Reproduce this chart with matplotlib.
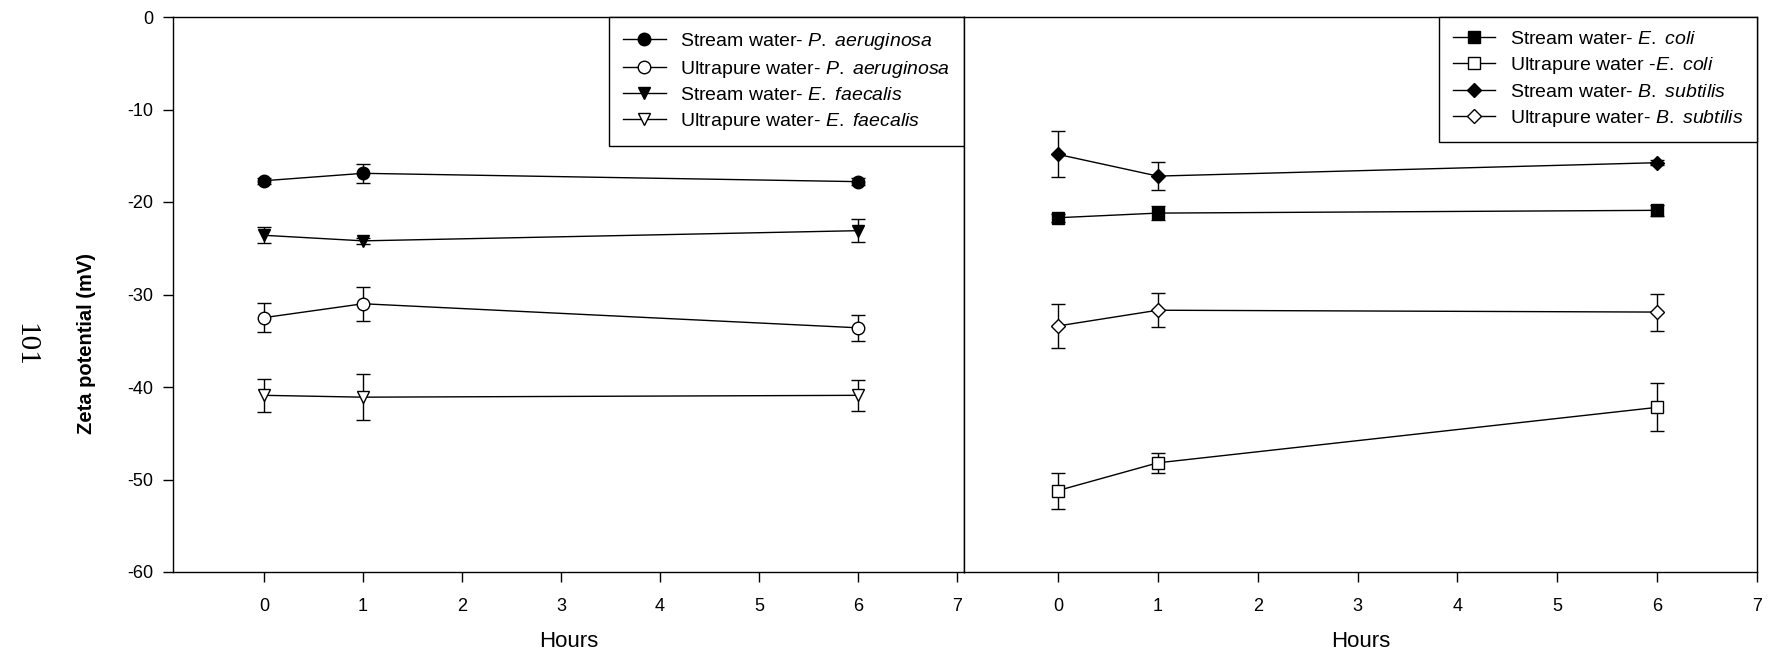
import matplotlib
matplotlib.use("Agg")
import matplotlib.pyplot as plt

plt.rcParams['font.family'] = 'Liberation Sans'
plt.rcParams['axes.unicode_minus'] = False
plt.rcParams['mathtext.fontset'] = 'custom'
plt.rcParams['mathtext.it'] = 'Liberation Sans:italic'
plt.rcParams['mathtext.rm'] = 'Liberation Sans'

hours = [0, 1, 6]

# left panel: P. aeruginosa and E. faecalis
stream_pa = [-17.7, -16.9, -17.8]
stream_pa_err = [0.3, 1.0, 0.4]
ultra_pa = [-32.5, -31.0, -33.6]
ultra_pa_err = [1.55, 1.85, 1.4]
stream_ef = [-23.6, -24.2, -23.1]
stream_ef_err = [0.85, 0.3, 1.25]
ultra_ef = [-40.9, -41.1, -40.9]
ultra_ef_err = [1.8, 2.5, 1.7]

# right panel: E. coli and B. subtilis
stream_ec = [-21.7, -21.2, -20.9]
stream_ec_err = [0.45, 0.75, 0.6]
ultra_ec = [-51.2, -48.2, -42.2]
ultra_ec_err = [1.95, 1.1, 2.6]
stream_bs = [-14.85, -17.2, -15.75]
stream_bs_err = [2.5, 1.5, 0.3]
ultra_bs = [-33.4, -31.7, -31.9]
ultra_bs_err = [2.4, 1.85, 2.0]

left_labels = [r"Stream water- $\mathit{P.}$ $\mathit{aeruginosa}$",
               r"Ultrapure water- $\mathit{P.}$ $\mathit{aeruginosa}$",
               r"Stream water- $\mathit{E.}$ $\mathit{faecalis}$",
               r"Ultrapure water- $\mathit{E.}$ $\mathit{faecalis}$"]
right_labels = [r"Stream water- $\mathit{E.}$ $\mathit{coli}$",
                r"Ultrapure water -$\mathit{E.}$ $\mathit{coli}$",
                r"Stream water- $\mathit{B.}$ $\mathit{subtilis}$",
                r"Ultrapure water- $\mathit{B.}$ $\mathit{subtilis}$"]
y_ticks = [0, -10, -20, -30, -40, -50, -60]


def draw_series(ax, y, err, marker, filled, label, ms=9):
    ax.errorbar(hours, y, yerr=err, fmt='none', ecolor='black',
                elinewidth=1.0, capsize=5, capthick=1.0, zorder=2)
    ax.plot(hours, y, color='black', lw=1.0, marker=marker, ms=ms,
            mfc='black' if filled else 'white', mec='black', mew=1.0,
            label=label, zorder=3)


def style_axes(ax, xlim):
    ax.set_xlim(*xlim)
    ax.set_ylim(-60, 0)
    ax.set_xticks(range(0, 8))
    for sp in ax.spines.values():
        sp.set_linewidth(1.0)
    ax.tick_params(direction='out', length=7, width=1.0, labelsize=13,
                   pad=7, colors='black')
    ax.tick_params(axis='x', pad=12)
    ax.set_xlabel("Hours", fontsize=16, labelpad=11)


W, H = 1770, 657
fig = plt.figure(figsize=(W / 100, H / 100), dpi=100)
bottom = 1 - 572 / H
height = (572 - 17) / H
ax1 = fig.add_axes([173 / W, bottom, (964 - 173) / W, height])
ax2 = fig.add_axes([964 / W, bottom, (1757 - 964) / W, height])

draw_series(ax1, stream_pa, stream_pa_err, 'o', True, left_labels[0])
draw_series(ax1, ultra_pa, ultra_pa_err, 'o', False, left_labels[1])
draw_series(ax1, stream_ef, stream_ef_err, 'v', True, left_labels[2])
draw_series(ax1, ultra_ef, ultra_ef_err, 'v', False, left_labels[3])

draw_series(ax2, stream_ec, stream_ec_err, 's', True, right_labels[0])
draw_series(ax2, ultra_ec, ultra_ec_err, 's', False, right_labels[1])
draw_series(ax2, stream_bs, stream_bs_err, 'D', True, right_labels[2], ms=7.5)
draw_series(ax2, ultra_bs, ultra_bs_err, 'D', False, right_labels[3], ms=7.5)

style_axes(ax1, (-0.92, 7.07))
style_axes(ax2, (-0.94, 7.0))
ax1.set_yticks(y_ticks)
ax1.set_yticklabels([str(v) for v in y_ticks])
ax2.set_yticks([])

for ax in (ax1, ax2):
    leg = ax.legend(loc='upper right', borderaxespad=0, fontsize=14,
                    frameon=True, fancybox=False, framealpha=1,
                    edgecolor='black', handlelength=2.2, handletextpad=0.75,
                    labelspacing=0.36, borderpad=0.7)
    leg.get_frame().set_linewidth(1.0)

fig.text(87 / W, 1 - 344 / H, "Zeta potential (mV)", rotation=90,
         ha='center', va='center', fontsize=14.5, fontweight='bold')
fig.text(25 / W, 1 - 345 / H, "101", rotation=-90, ha='center', va='center',
         family='Liberation Serif', fontsize=21)

fig.savefig("out.png", dpi=100)
